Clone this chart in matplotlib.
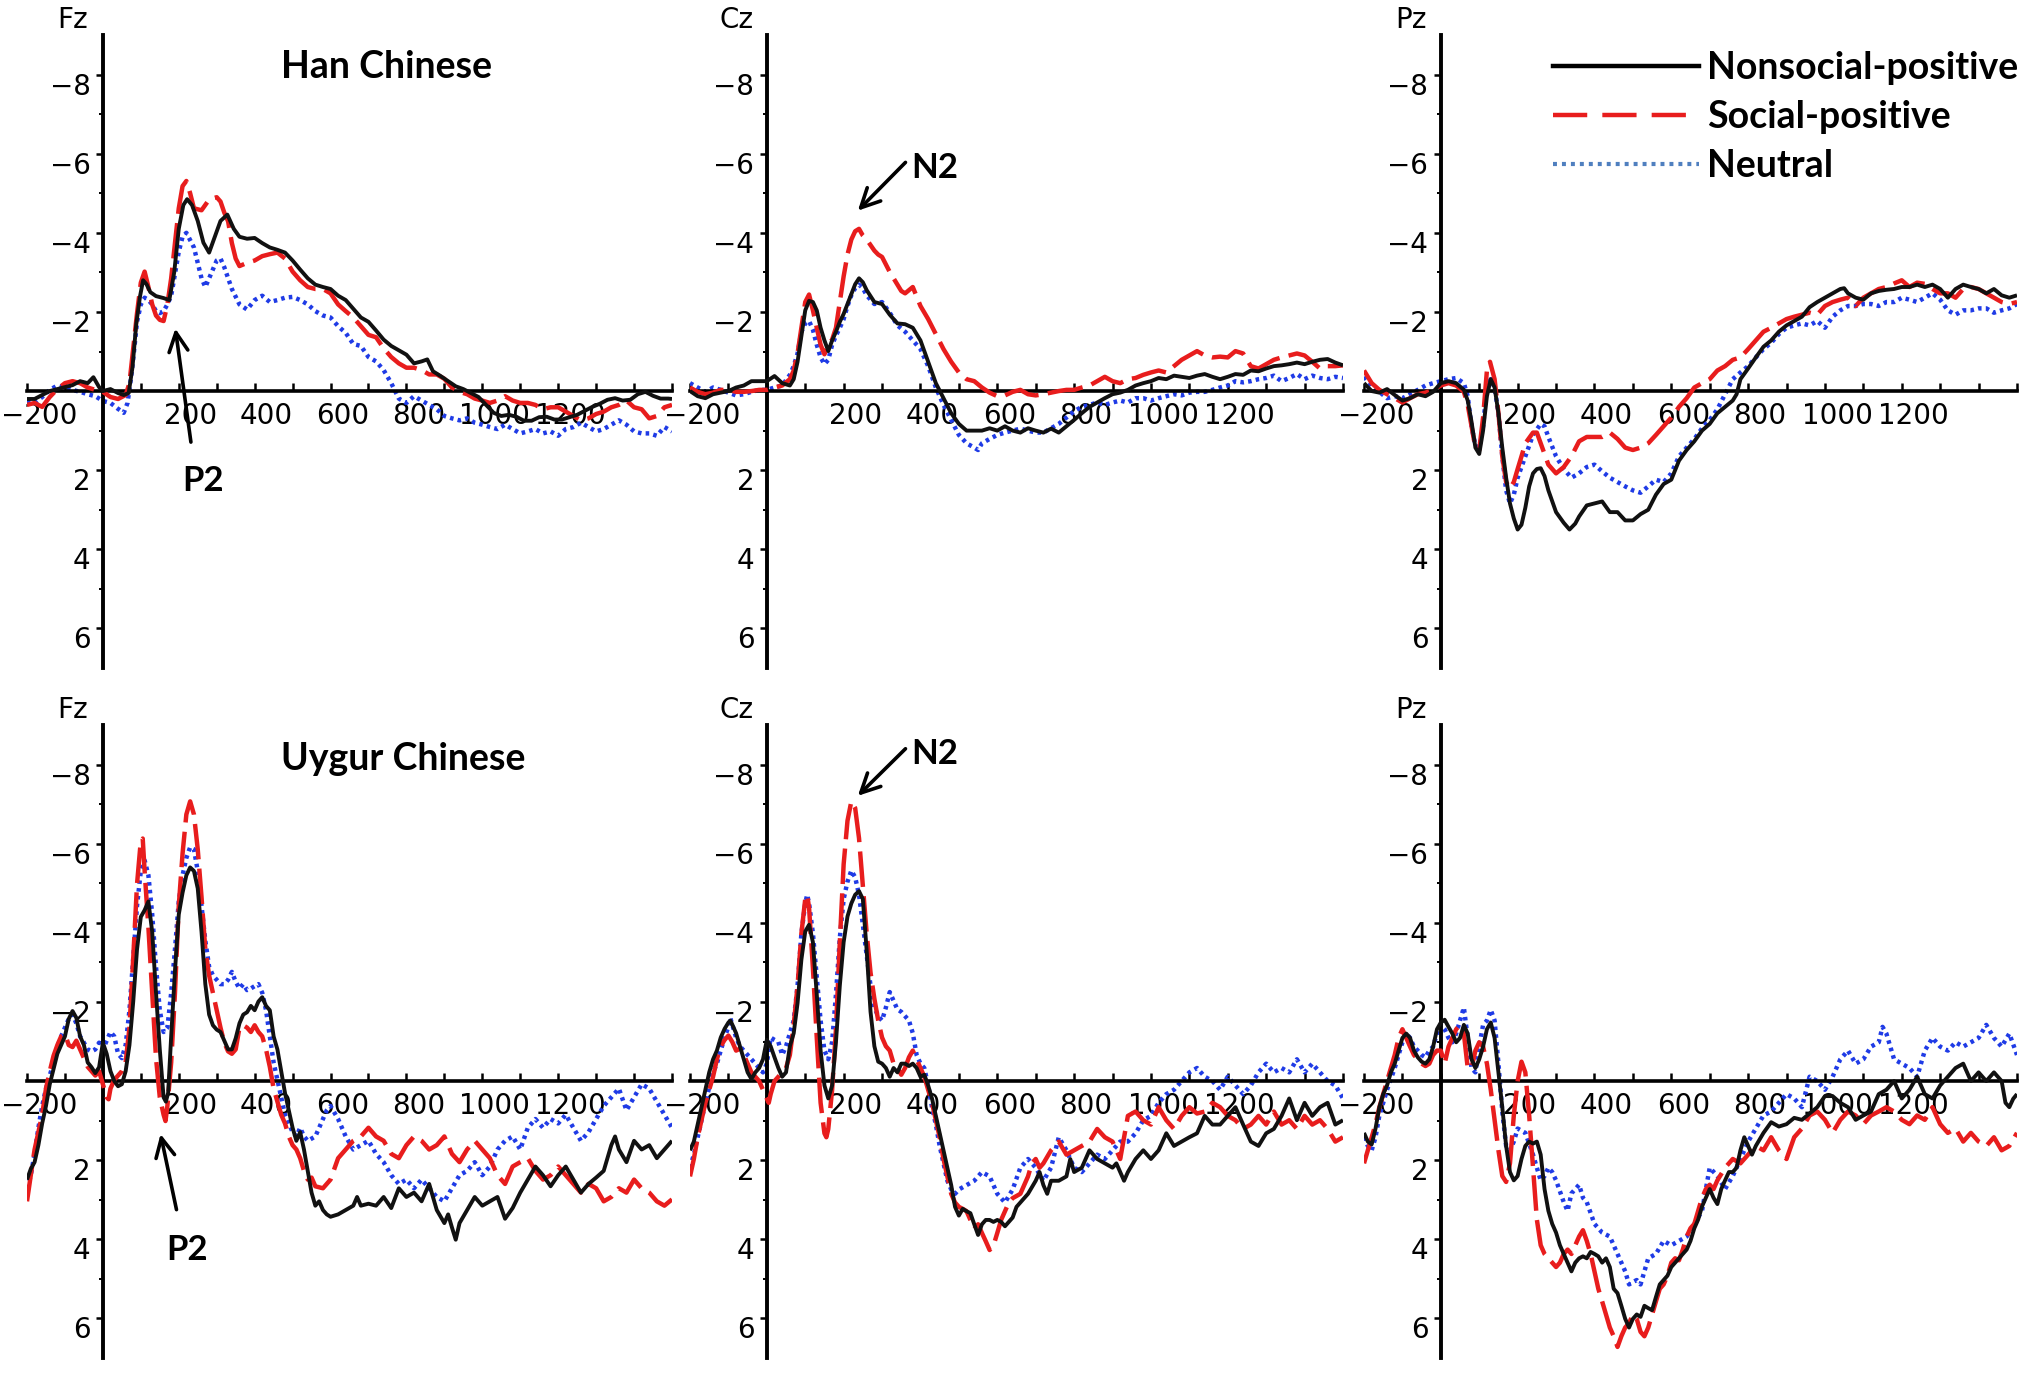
import numpy as np
import matplotlib
matplotlib.use('Agg')
import matplotlib.pyplot as plt
from matplotlib.lines import Line2D
from matplotlib.transforms import ScaledTranslation

# --- grand averages: (time in ms, amplitude in uV) ---
# Han Chinese, Fz
han_fz_nonsocial = [(-200, 0.2), (-180, 0.2), (-160, 0.1), (-140, 0.0), (-120, -0.05), (-100, -0.1), (-80, -0.15), (-60, -0.25),
    (-40, -0.2), (-25, -0.35), (-10, -0.1), (0, 0.0), (20, -0.05), (40, 0.05), (55, 0.1), (68, 0.05), (78, -0.6), (88, -1.7),
    (98, -2.4), (106, -2.8), (115, -2.7), (125, -2.5), (140, -2.4), (160, -2.35), (175, -2.3), (188, -3.0), (200, -4.1),
    (212, -4.7), (222, -4.85), (235, -4.7), (250, -4.3), (265, -3.75), (280, -3.5), (295, -3.9), (310, -4.3), (328, -4.46),
    (345, -4.1), (360, -3.9), (380, -3.85), (400, -3.87), (420, -3.74), (440, -3.63), (460, -3.57), (480, -3.5), (500, -3.3),
    (520, -3.07), (540, -2.85), (560, -2.69), (580, -2.63), (600, -2.58), (620, -2.41), (640, -2.3), (660, -2.08), (680, -1.86),
    (700, -1.75), (720, -1.53), (740, -1.3), (760, -1.14), (780, -1.03), (800, -0.92), (820, -0.7), (840, -0.75), (855, -0.8),
    (870, -0.5), (890, -0.38), (910, -0.25), (930, -0.12), (950, -0.05), (970, 0.05), (990, 0.15), (1010, 0.35), (1030, 0.55),
    (1050, 0.63), (1070, 0.6), (1090, 0.65), (1110, 0.75), (1130, 0.75), (1150, 0.66), (1170, 0.65), (1190, 0.72), (1210, 0.72),
    (1230, 0.66), (1250, 0.6), (1270, 0.5), (1290, 0.4), (1310, 0.32), (1330, 0.22), (1350, 0.18), (1370, 0.24), (1390, 0.22),
    (1410, 0.08), (1430, 0.02), (1450, 0.12), (1470, 0.19), (1490, 0.19), (1500, 0.2)]
han_fz_social = [(-200, 0.35), (-180, 0.3), (-160, 0.4), (-140, 0.15), (-120, -0.05), (-100, -0.2), (-80, -0.25), (-60, -0.2),
    (-40, -0.09), (-20, -0.03), (0, 0.02), (20, 0.15), (40, 0.2), (60, 0.1), (70, -0.2), (80, -1.08), (90, -1.97), (100, -2.74),
    (110, -3.02), (120, -2.63), (130, -2.19), (140, -1.91), (150, -1.8), (160, -1.77), (170, -2.19), (180, -2.85), (190, -3.74),
    (200, -4.62), (210, -5.18), (220, -5.31), (230, -5.0), (240, -4.62), (260, -4.57), (280, -4.84), (300, -4.9), (310, -4.79),
    (320, -4.51), (330, -4.29), (340, -3.74), (350, -3.35), (360, -3.16), (380, -3.24), (400, -3.3), (420, -3.41), (440, -3.46),
    (460, -3.5), (480, -3.35), (500, -3.02), (520, -2.8), (540, -2.63), (560, -2.58), (580, -2.58), (600, -2.47), (620, -2.19),
    (640, -2.02), (660, -1.86), (680, -1.64), (700, -1.42), (720, -1.36), (740, -1.08), (760, -0.86), (780, -0.7), (800, -0.59),
    (820, -0.59), (840, -0.53), (860, -0.42), (880, -0.42), (900, -0.31), (920, -0.09), (940, 0.02), (960, 0.08), (980, 0.19),
    (1000, 0.24), (1020, 0.3), (1040, 0.24), (1060, 0.13), (1080, 0.24), (1100, 0.3), (1120, 0.3), (1140, 0.35), (1160, 0.46),
    (1180, 0.41), (1200, 0.41), (1220, 0.52), (1240, 0.63), (1260, 0.74), (1280, 0.69), (1300, 0.58), (1320, 0.52), (1340, 0.41),
    (1360, 0.35), (1380, 0.24), (1400, 0.41), (1420, 0.46), (1440, 0.69), (1460, 0.63), (1480, 0.41), (1500, 0.35)]
han_fz_neutral = [(-200, 0.25), (-180, 0.3), (-160, 0.15), (-140, -0.03), (-120, -0.14), (-100, -0.09), (-80, -0.03), (-60, 0.02),
    (-40, 0.08), (-20, 0.13), (0, 0.25), (20, 0.3), (40, 0.45), (55, 0.55), (65, 0.3), (75, -0.4), (82, -1.0), (90, -1.75),
    (100, -2.19), (110, -2.36), (120, -2.3), (130, -2.19), (140, -2.02), (150, -1.97), (160, -2.02), (170, -2.19), (180, -2.41),
    (190, -2.96), (200, -3.52), (210, -3.9), (220, -4.0), (240, -3.63), (260, -2.85), (270, -2.63), (280, -2.85), (300, -3.3),
    (310, -3.35), (320, -3.13), (340, -2.58), (360, -2.19), (380, -2.06), (400, -2.3), (420, -2.41), (440, -2.25), (460, -2.3),
    (480, -2.36), (500, -2.38), (520, -2.3), (540, -2.19), (560, -2.02), (580, -1.91), (600, -1.86), (620, -1.64), (640, -1.47),
    (660, -1.19), (680, -1.14), (700, -0.86), (720, -0.75), (740, -0.53), (760, -0.2), (780, 0.19), (800, 0.3), (820, 0.13),
    (840, 0.24), (860, 0.35), (880, 0.46), (900, 0.63), (920, 0.69), (940, 0.74), (960, 0.69), (980, 0.8), (1000, 0.85),
    (1020, 0.91), (1040, 0.96), (1060, 0.85), (1080, 0.96), (1100, 1.07), (1120, 1.02), (1140, 0.96), (1160, 1.07), (1180, 1.02),
    (1200, 1.13), (1220, 0.96), (1240, 0.91), (1260, 0.8), (1280, 0.91), (1300, 1.02), (1320, 0.96), (1340, 0.85), (1360, 0.74),
    (1380, 0.85), (1400, 1.02), (1420, 1.07), (1440, 1.07), (1460, 1.13), (1480, 0.91), (1500, 1.02)]

# Han Chinese, Cz
han_cz_nonsocial = [(-200, 0.0), (-180, 0.13), (-160, 0.18), (-140, 0.08), (-120, 0.04), (-100, 0.0), (-80, -0.09), (-60, -0.14),
    (-40, -0.25), (-20, -0.25), (0, -0.25), (20, -0.38), (40, -0.2), (60, -0.14), (70, -0.3), (80, -0.74), (90, -1.39),
    (100, -2.04), (110, -2.28), (120, -2.25), (130, -2.04), (140, -1.6), (150, -1.28), (160, -1.01), (170, -1.28), (180, -1.5),
    (190, -1.75), (200, -1.95), (210, -2.2), (220, -2.45), (230, -2.7), (240, -2.85), (250, -2.75), (260, -2.55), (280, -2.25),
    (300, -2.2), (320, -1.93), (340, -1.71), (360, -1.69), (380, -1.6), (400, -1.28), (420, -0.74), (440, -0.2), (460, 0.18),
    (480, 0.56), (500, 0.83), (520, 1.0), (540, 1.0), (560, 1.0), (580, 0.94), (600, 1.0), (620, 0.89), (640, 1.0), (660, 1.05),
    (680, 0.94), (700, 1.0), (720, 1.05), (740, 0.95), (760, 1.05), (780, 0.89), (800, 0.73), (820, 0.56), (840, 0.4),
    (860, 0.29), (880, 0.18), (900, 0.08), (920, 0.04), (940, -0.03), (960, -0.14), (980, -0.2), (1000, -0.25), (1020, -0.33),
    (1040, -0.3), (1060, -0.39), (1080, -0.36), (1100, -0.33), (1120, -0.39), (1140, -0.43), (1160, -0.36), (1180, -0.3),
    (1200, -0.36), (1220, -0.43), (1240, -0.41), (1260, -0.52), (1280, -0.5), (1300, -0.57), (1320, -0.63), (1340, -0.65),
    (1360, -0.68), (1380, -0.72), (1400, -0.68), (1420, -0.74), (1440, -0.79), (1460, -0.81), (1480, -0.72), (1500, -0.65)]
han_cz_social = [(-200, -0.09), (-180, 0.02), (-160, 0.08), (-140, 0.04), (-120, -0.03), (-100, -0.03), (-80, 0.02), (-60, 0.02),
    (-40, 0.0), (-20, -0.03), (0, -0.03), (20, -0.09), (40, -0.14), (60, -0.3), (70, -0.52), (80, -0.95), (90, -1.6),
    (100, -2.25), (110, -2.44), (120, -2.04), (130, -1.6), (140, -1.17), (150, -0.93), (160, -1.17), (170, -1.3), (180, -1.6),
    (190, -2.25), (200, -2.9), (210, -3.45), (220, -3.83), (230, -4.04), (240, -4.1), (250, -3.93), (260, -3.83), (280, -3.55),
    (290, -3.45), (300, -3.39), (320, -3.01), (340, -2.69), (350, -2.53), (360, -2.47), (380, -2.63), (400, -2.15), (420, -1.82),
    (440, -1.44), (460, -1.06), (480, -0.74), (500, -0.47), (520, -0.3), (540, -0.25), (560, -0.09), (580, 0.04), (600, 0.13),
    (620, 0.11), (640, 0.02), (660, -0.03), (680, 0.08), (700, 0.11), (720, 0.08), (740, 0.04), (760, 0.0), (780, -0.03),
    (800, -0.03), (820, -0.09), (840, -0.14), (860, -0.25), (880, -0.36), (900, -0.25), (920, -0.2), (940, -0.3), (960, -0.33),
    (980, -0.41), (1000, -0.47), (1020, -0.52), (1040, -0.47), (1060, -0.63), (1080, -0.79), (1100, -0.9), (1120, -1.01),
    (1140, -0.9), (1160, -0.85), (1180, -0.87), (1200, -0.85), (1220, -1.01), (1240, -0.95), (1260, -0.63), (1280, -0.57),
    (1300, -0.68), (1320, -0.79), (1340, -0.85), (1360, -0.9), (1380, -0.95), (1400, -0.9), (1420, -0.74), (1440, -0.57),
    (1460, -0.63), (1480, -0.63), (1500, -0.65)]
han_cz_neutral = [(-200, -0.2), (-180, -0.09), (-160, 0.02), (-140, -0.09), (-120, -0.03), (-100, 0.04), (-80, 0.11), (-60, 0.08),
    (-40, 0.02), (-20, -0.03), (0, -0.03), (20, -0.09), (40, -0.14), (60, -0.41), (70, -0.63), (80, -0.95), (90, -1.5),
    (100, -1.71), (110, -1.77), (120, -1.55), (130, -1.17), (140, -0.85), (150, -0.68), (160, -0.79), (170, -1.17), (180, -1.4),
    (190, -1.6), (200, -1.82), (210, -2.15), (220, -2.42), (230, -2.6), (240, -2.69), (250, -2.6), (260, -2.42), (280, -2.2),
    (300, -2.25), (320, -1.98), (340, -1.66), (360, -1.5), (380, -1.28), (400, -1.06), (420, -0.63), (440, -0.09), (460, 0.35),
    (480, 0.73), (500, 1.11), (520, 1.32), (540, 1.43), (550, 1.49), (560, 1.32), (580, 1.21), (600, 1.11), (620, 1.05),
    (640, 1.0), (660, 0.95), (680, 1.0), (700, 1.05), (720, 1.05), (740, 0.94), (760, 0.83), (780, 0.67), (800, 0.51),
    (820, 0.4), (840, 0.35), (860, 0.29), (880, 0.35), (900, 0.29), (920, 0.24), (940, 0.29), (960, 0.18), (980, 0.18),
    (1000, 0.24), (1020, 0.18), (1040, 0.13), (1060, 0.08), (1080, 0.11), (1100, 0.04), (1120, 0.02), (1140, 0.02), (1160, -0.03),
    (1180, -0.09), (1200, -0.14), (1220, -0.25), (1240, -0.22), (1260, -0.25), (1280, -0.3), (1300, -0.33), (1320, -0.39),
    (1340, -0.25), (1360, -0.33), (1380, -0.43), (1400, -0.3), (1420, -0.39), (1440, -0.33), (1460, -0.3), (1480, -0.36),
    (1500, -0.33)]

# Han Chinese, Pz
han_pz_nonsocial = [(-200, -0.2), (-180, 0.0), (-160, 0.04), (-140, -0.05), (-120, 0.1), (-100, 0.24), (-80, 0.18), (-60, 0.08),
    (-40, 0.13), (-20, 0.02), (0, -0.2), (20, -0.25), (40, -0.2), (60, -0.03), (70, 0.24), (80, 0.78), (90, 1.43), (100, 1.59),
    (110, 1.0), (120, 0.13), (130, -0.3), (140, -0.09), (150, 0.56), (160, 1.43), (170, 2.19), (180, 2.84), (190, 3.22),
    (200, 3.5), (210, 3.38), (220, 2.95), (230, 2.41), (240, 2.08), (250, 1.97), (260, 1.95), (270, 2.15), (280, 2.51),
    (300, 3.06), (320, 3.33), (335, 3.5), (350, 3.35), (360, 3.17), (380, 2.89), (400, 2.84), (420, 2.79), (440, 3.06),
    (460, 3.06), (480, 3.27), (500, 3.27), (520, 3.11), (540, 3.0), (560, 2.62), (580, 2.35), (600, 2.24), (620, 1.76),
    (640, 1.49), (660, 1.27), (680, 1.0), (700, 0.83), (720, 0.56), (740, 0.4), (760, 0.24), (770, 0.08), (780, -0.3),
    (800, -0.57), (820, -0.85), (840, -1.12), (860, -1.28), (880, -1.5), (900, -1.66), (920, -1.77), (940, -1.88), (960, -2.12),
    (980, -2.25), (1000, -2.36), (1020, -2.47), (1040, -2.58), (1050, -2.6), (1060, -2.47), (1080, -2.36), (1100, -2.31),
    (1120, -2.47), (1140, -2.53), (1160, -2.56), (1180, -2.58), (1200, -2.63), (1220, -2.63), (1240, -2.69), (1260, -2.63),
    (1280, -2.69), (1300, -2.58), (1320, -2.36), (1340, -2.58), (1360, -2.69), (1380, -2.63), (1400, -2.58), (1420, -2.47),
    (1440, -2.58), (1460, -2.42), (1480, -2.36), (1500, -2.42)]
han_pz_social = [(-200, -0.52), (-180, -0.2), (-160, -0.03), (-140, 0.08), (-120, 0.18), (-100, 0.29), (-80, 0.18), (-60, 0.08),
    (-40, 0.04), (-20, -0.03), (0, -0.14), (20, -0.2), (40, -0.14), (60, 0.02), (70, 0.35), (80, 0.89), (90, 1.43), (100, 1.49),
    (110, 0.67), (120, -0.52), (128, -0.74), (140, -0.3), (150, 0.56), (160, 1.65), (170, 2.3), (180, 2.46), (190, 2.3),
    (200, 1.97), (210, 1.65), (220, 1.32), (240, 1.05), (250, 1.05), (260, 1.32), (280, 1.86), (300, 2.08), (320, 1.92),
    (340, 1.65), (360, 1.27), (380, 1.16), (400, 1.16), (420, 1.16), (440, 1.05), (460, 1.21), (480, 1.43), (500, 1.49),
    (520, 1.43), (540, 1.32), (560, 1.11), (580, 0.89), (600, 0.67), (620, 0.4), (640, 0.18), (660, -0.09), (680, -0.2),
    (700, -0.3), (720, -0.52), (740, -0.63), (760, -0.79), (780, -0.85), (800, -1.06), (820, -1.28), (840, -1.5), (860, -1.6),
    (880, -1.71), (900, -1.82), (920, -1.88), (940, -1.93), (960, -1.98), (980, -1.93), (1000, -2.15), (1020, -2.25),
    (1040, -2.31), (1060, -2.36), (1080, -2.15), (1100, -2.36), (1120, -2.47), (1140, -2.58), (1160, -2.63), (1180, -2.72),
    (1200, -2.8), (1220, -2.63), (1240, -2.74), (1260, -2.71), (1280, -2.58), (1300, -2.47), (1320, -2.47), (1340, -2.36),
    (1360, -2.58), (1380, -2.63), (1400, -2.58), (1420, -2.47), (1440, -2.36), (1460, -2.25), (1480, -2.2), (1500, -2.25)]
han_pz_neutral = [(-200, -0.36), (-180, -0.14), (-160, 0.02), (-140, 0.18), (-120, 0.13), (-100, 0.18), (-80, 0.08), (-60, -0.03),
    (-40, -0.14), (-20, -0.2), (0, -0.25), (20, -0.3), (40, -0.33), (60, -0.2), (70, 0.13), (80, 0.89), (90, 1.38), (100, 1.43),
    (110, 0.89), (120, -0.09), (130, -0.3), (140, -0.09), (150, 0.56), (160, 1.65), (170, 2.51), (180, 2.84), (190, 2.62),
    (200, 2.19), (220, 1.65), (240, 1.11), (260, 0.83), (270, 0.89), (280, 1.16), (300, 1.65), (320, 1.97), (340, 2.19),
    (360, 2.08), (380, 1.92), (400, 1.86), (420, 2.03), (440, 2.19), (460, 2.3), (480, 2.41), (500, 2.51), (520, 2.57),
    (540, 2.41), (560, 2.24), (580, 2.3), (600, 2.08), (620, 1.65), (640, 1.43), (660, 1.21), (680, 0.94), (700, 0.73),
    (720, 0.46), (740, 0.08), (760, -0.3), (780, -0.47), (800, -0.63), (820, -0.85), (840, -1.06), (860, -1.22), (880, -1.44),
    (900, -1.6), (920, -1.66), (940, -1.71), (960, -1.66), (980, -1.77), (1000, -1.6), (1020, -1.88), (1040, -2.04),
    (1060, -2.15), (1080, -2.15), (1100, -2.2), (1120, -2.2), (1140, -2.15), (1160, -2.25), (1180, -2.25), (1200, -2.36),
    (1220, -2.31), (1240, -2.25), (1260, -2.36), (1280, -2.47), (1300, -2.31), (1320, -2.04), (1340, -1.93), (1360, -2.04),
    (1380, -2.04), (1400, -2.09), (1420, -2.09), (1440, -1.98), (1460, -2.04), (1480, -2.09), (1500, -2.2)]

# Uygur Chinese, Fz
uyg_fz_nonsocial = [(-200, 2.49), (-190, 2.22), (-180, 2.05), (-170, 1.62), (-160, 1.07), (-150, 0.63), (-140, 0.08), (-120, -0.69),
    (-100, -1.13), (-90, -1.57), (-80, -1.77), (-70, -1.6), (-60, -1.13), (-50, -0.91), (-40, -0.47), (-30, -0.35), (-20, -0.2),
    (-10, -0.35), (0, -0.97), (10, -0.69), (20, -0.25), (30, 0.0), (40, 0.13), (50, 0.08), (60, -0.25), (70, -0.91), (80, -2.01),
    (90, -3.33), (100, -4.15), (110, -4.32), (120, -4.54), (130, -3.77), (140, -2.23), (150, -0.8), (160, 0.41), (166, 0.52),
    (172, 0.3), (180, -1.13), (190, -2.78), (200, -4.21), (210, -4.76), (220, -5.2), (230, -5.4), (240, -5.31), (250, -4.87),
    (260, -3.77), (270, -2.45), (280, -1.68), (290, -1.41), (300, -1.3), (310, -1.24), (320, -1.02), (330, -0.8), (340, -0.8),
    (350, -1.08), (360, -1.46), (370, -1.68), (380, -1.74), (390, -1.9), (400, -1.79), (410, -2.01), (420, -2.12), (430, -1.9),
    (440, -1.79), (450, -1.13), (460, -0.8), (470, -0.25), (480, 0.3), (490, 0.74), (500, 1.18), (510, 1.51), (520, 1.29),
    (530, 1.73), (540, 2.27), (550, 2.82), (560, 3.15), (570, 3.04), (580, 3.26), (590, 3.37), (600, 3.43), (620, 3.37),
    (640, 3.26), (660, 3.15), (670, 2.93), (680, 3.15), (700, 3.1), (720, 3.15), (740, 2.93), (760, 3.21), (780, 2.71),
    (800, 2.93), (820, 2.82), (840, 3.04), (860, 2.6), (880, 3.26), (900, 3.59), (910, 3.37), (920, 3.7), (930, 4.01),
    (940, 3.59), (960, 3.26), (980, 2.93), (1000, 3.15), (1020, 3.04), (1040, 2.93), (1060, 3.48), (1080, 3.21), (1100, 2.82),
    (1120, 2.49), (1140, 2.16), (1160, 2.38), (1180, 2.66), (1200, 2.38), (1220, 2.16), (1240, 2.49), (1260, 2.82), (1280, 2.6),
    (1300, 2.44), (1320, 2.27), (1340, 1.62), (1350, 1.4), (1360, 1.73), (1380, 2.05), (1400, 1.51), (1420, 1.73), (1440, 1.62),
    (1460, 1.95), (1480, 1.73), (1500, 1.51)]
uyg_fz_social = [(-200, 3.04), (-190, 2.38), (-180, 1.73), (-170, 1.29), (-160, 0.85), (-150, 0.19), (-140, -0.25), (-130, -0.64),
    (-120, -0.91), (-110, -1.13), (-100, -1.19), (-90, -0.91), (-80, -0.86), (-70, -1.02), (-60, -0.8), (-50, -0.58),
    (-40, -0.36), (-30, -0.25), (-20, -0.14), (-10, -0.25), (0, 0.08), (10, 0.41), (15, 0.46), (20, 0.19), (30, -0.03),
    (40, -0.14), (50, -0.25), (60, -0.47), (70, -1.35), (80, -3.11), (90, -4.98), (100, -6.08), (105, -6.13), (110, -5.31),
    (120, -3.88), (130, -2.23), (140, -0.58), (150, 0.41), (160, 0.85), (165, 1.01), (170, 0.63), (180, -0.47), (190, -2.23),
    (200, -4.43), (210, -5.75), (220, -6.74), (230, -7.07), (240, -6.74), (250, -5.86), (260, -4.65), (270, -3.33), (280, -2.67),
    (290, -2.23), (300, -1.79), (310, -1.35), (320, -0.97), (330, -0.75), (340, -0.69), (350, -0.8), (360, -1.35), (370, -1.41),
    (380, -1.35), (390, -1.24), (400, -1.41), (410, -1.24), (420, -1.13), (430, -0.8), (440, -0.36), (450, 0.19), (460, 0.52),
    (470, 0.85), (480, 1.07), (490, 1.4), (500, 1.62), (510, 1.73), (520, 1.95), (530, 2.27), (540, 2.49), (550, 2.44),
    (560, 2.66), (580, 2.71), (600, 2.49), (620, 1.95), (640, 1.73), (660, 1.51), (680, 1.4), (700, 1.18), (720, 1.4),
    (740, 1.51), (760, 1.84), (780, 1.95), (800, 1.62), (820, 1.4), (840, 1.51), (860, 1.73), (880, 1.62), (900, 1.4),
    (920, 1.84), (940, 2.05), (960, 1.73), (980, 1.51), (1000, 1.73), (1020, 1.95), (1040, 2.38), (1060, 2.6), (1080, 2.16),
    (1100, 2.05), (1120, 1.95), (1140, 2.27), (1160, 2.49), (1180, 2.38), (1200, 2.16), (1220, 2.38), (1240, 2.6), (1260, 2.82),
    (1280, 2.6), (1300, 2.71), (1320, 3.04), (1340, 2.93), (1360, 2.71), (1380, 2.82), (1400, 2.49), (1420, 2.71), (1440, 2.82),
    (1460, 3.04), (1480, 3.15), (1500, 2.99)]
uyg_fz_neutral = [(-200, 2.71), (-190, 2.38), (-180, 1.84), (-170, 1.18), (-160, 0.63), (-150, 0.19), (-140, -0.14), (-130, -0.47),
    (-120, -0.86), (-110, -1.13), (-100, -1.35), (-90, -1.57), (-80, -1.68), (-70, -1.46), (-60, -1.13), (-50, -0.97),
    (-40, -0.8), (-30, -0.75), (-20, -0.8), (-10, -0.97), (0, -0.8), (10, -1.02), (20, -1.24), (30, -1.13), (40, -0.69),
    (50, -0.58), (60, -0.91), (70, -1.79), (80, -3.11), (90, -4.43), (100, -5.31), (110, -5.58), (120, -5.2), (130, -4.21),
    (140, -2.89), (150, -1.79), (160, -1.24), (170, -1.35), (180, -2.23), (190, -3.33), (200, -4.54), (210, -5.2), (220, -5.64),
    (230, -5.91), (240, -5.86), (250, -5.31), (260, -4.43), (270, -3.55), (280, -2.89), (290, -2.67), (300, -2.56), (310, -2.45),
    (320, -2.45), (330, -2.56), (340, -2.76), (350, -2.51), (360, -2.34), (370, -2.45), (380, -2.3), (390, -2.34), (400, -2.4),
    (410, -2.45), (420, -2.23), (430, -1.79), (440, -1.13), (450, -0.47), (460, -0.03), (470, 0.41), (480, 0.85), (490, 1.07),
    (500, 1.29), (510, 1.4), (520, 1.18), (530, 1.4), (540, 1.51), (560, 1.4), (570, 1.18), (580, 0.96), (590, 0.74),
    (600, 0.63), (620, 0.96), (640, 1.4), (660, 1.73), (680, 1.62), (700, 1.51), (720, 1.84), (740, 2.05), (760, 2.38),
    (780, 2.6), (800, 2.49), (820, 2.71), (840, 2.49), (860, 2.71), (880, 2.93), (900, 3.04), (920, 2.71), (940, 2.38),
    (960, 2.27), (980, 2.05), (1000, 2.38), (1020, 2.16), (1040, 1.73), (1060, 1.51), (1080, 1.4), (1100, 1.73), (1120, 1.18),
    (1140, 0.96), (1160, 1.18), (1180, 0.96), (1200, 1.07), (1220, 0.85), (1240, 1.18), (1260, 1.51), (1280, 1.29), (1300, 0.96),
    (1320, 0.63), (1340, 0.41), (1360, 0.19), (1380, 0.74), (1400, 0.41), (1420, 0.08), (1440, 0.19), (1460, 0.52),
    (1480, 0.85), (1500, 1.18)]

# Uygur Chinese, Cz
uyg_cz_nonsocial = [(-200, 1.75), (-190, 1.53), (-180, 1.1), (-170, 0.66), (-160, 0.22), (-150, -0.22), (-140, -0.55), (-130, -0.77),
    (-120, -1.1), (-110, -1.32), (-100, -1.48), (-95, -1.53), (-90, -1.43), (-80, -1.21), (-70, -0.88), (-60, -0.55),
    (-50, -0.22), (-40, -0.05), (-30, -0.22), (-20, -0.33), (-10, -0.55), (0, -1.04), (10, -0.88), (20, -0.6), (30, -0.33),
    (40, -0.11), (50, -0.22), (60, -0.88), (70, -1.21), (80, -1.97), (90, -3.07), (100, -3.78), (110, -3.95), (120, -3.51),
    (130, -2.19), (140, -0.77), (150, 0.11), (160, 0.44), (170, 0.11), (180, -0.99), (190, -2.41), (200, -3.51), (210, -4.16),
    (220, -4.49), (230, -4.71), (240, -4.8), (250, -4.6), (260, -3.29), (270, -1.75), (280, -0.88), (290, -0.49), (300, -0.44),
    (310, -0.33), (320, -0.11), (330, -0.33), (340, -0.22), (350, -0.44), (360, -0.44), (370, -0.38), (380, -0.44), (390, -0.33),
    (400, -0.11), (410, -0.16), (420, 0.11), (430, 0.44), (440, 0.88), (450, 1.32), (460, 1.75), (470, 2.19), (480, 2.63),
    (490, 3.18), (500, 3.4), (510, 3.23), (520, 3.29), (530, 3.34), (540, 3.62), (550, 3.89), (560, 3.62), (570, 3.51),
    (580, 3.51), (590, 3.56), (600, 3.51), (610, 3.56), (620, 3.67), (630, 3.56), (640, 3.45), (650, 3.18), (660, 3.07),
    (680, 2.85), (700, 2.52), (710, 2.3), (720, 2.63), (730, 2.85), (740, 2.52), (760, 2.52), (780, 2.41), (790, 1.97),
    (800, 2.3), (820, 2.19), (840, 1.75), (860, 1.97), (880, 2.08), (900, 2.19), (910, 2.08), (920, 2.3), (930, 2.52),
    (940, 2.3), (960, 1.97), (980, 1.75), (1000, 1.97), (1020, 1.75), (1040, 1.32), (1060, 1.64), (1080, 1.53), (1100, 1.42),
    (1120, 1.32), (1140, 0.88), (1160, 1.1), (1180, 1.1), (1200, 0.88), (1220, 0.66), (1240, 1.1), (1260, 1.53), (1280, 1.64),
    (1300, 1.32), (1320, 1.21), (1340, 0.88), (1360, 0.44), (1380, 0.99), (1400, 0.55), (1420, 0.88), (1440, 0.66),
    (1460, 0.55), (1480, 1.1), (1500, 0.99)]
uyg_cz_social = [(-200, 2.41), (-190, 1.97), (-180, 1.42), (-170, 0.99), (-160, 0.55), (-150, 0.22), (-140, -0.11), (-130, -0.55),
    (-120, -0.88), (-110, -1.04), (-100, -1.15), (-90, -0.99), (-80, -0.77), (-70, -0.82), (-60, -0.66), (-50, -0.44),
    (-40, -0.22), (-30, -0.11), (-20, 0.0), (-10, 0.22), (0, 0.44), (5, 0.55), (10, 0.33), (20, 0.0), (30, -0.11), (40, -0.22),
    (50, -0.33), (60, -0.66), (70, -1.42), (80, -2.41), (90, -3.73), (100, -4.6), (105, -4.71), (110, -4.38), (120, -2.85),
    (130, -1.1), (140, 0.55), (150, 1.32), (155, 1.42), (160, 1.21), (170, 0.22), (180, -1.32), (190, -3.51), (200, -5.48),
    (210, -6.58), (220, -7.07), (230, -6.9), (240, -6.14), (250, -4.93), (260, -3.73), (270, -2.74), (280, -2.08), (290, -1.53),
    (300, -1.1), (310, -0.88), (320, -0.77), (330, -0.44), (340, -0.33), (350, -0.16), (360, -0.33), (370, -0.6), (380, -0.77),
    (390, -0.55), (400, -0.33), (410, -0.11), (420, 0.22), (430, 0.55), (440, 0.99), (450, 1.42), (460, 1.97), (470, 2.41),
    (480, 2.85), (490, 3.07), (500, 3.18), (510, 3.23), (520, 3.29), (530, 3.51), (540, 3.73), (550, 3.62), (560, 3.84),
    (570, 4.05), (580, 4.27), (590, 4.16), (600, 3.84), (610, 3.51), (620, 3.29), (630, 3.07), (640, 2.96), (660, 2.85),
    (680, 2.41), (690, 2.08), (700, 1.97), (710, 2.19), (720, 2.08), (740, 1.75), (760, 1.53), (780, 1.86), (800, 1.75),
    (820, 1.64), (840, 1.53), (860, 1.21), (880, 1.42), (900, 1.53), (910, 1.75), (920, 1.97), (940, 0.88), (960, 0.77),
    (980, 0.99), (1000, 1.1), (1020, 0.66), (1040, 0.99), (1060, 1.21), (1080, 0.88), (1100, 0.66), (1120, 0.82), (1140, 0.77),
    (1160, 0.55), (1180, 0.66), (1200, 0.88), (1220, 0.99), (1240, 1.21), (1260, 1.1), (1280, 0.88), (1300, 1.1), (1320, 0.77),
    (1340, 1.1), (1360, 0.99), (1380, 1.21), (1400, 0.88), (1420, 1.1), (1440, 0.99), (1460, 1.21), (1480, 1.53), (1500, 1.42)]
uyg_cz_neutral = [(-200, 2.19), (-190, 1.86), (-180, 1.42), (-170, 0.99), (-160, 0.55), (-150, 0.16), (-140, -0.22), (-130, -0.44),
    (-120, -0.77), (-110, -1.1), (-100, -1.37), (-95, -1.59), (-90, -1.43), (-80, -1.1), (-70, -0.88), (-60, -0.77),
    (-50, -0.66), (-40, -0.55), (-30, -0.44), (-20, -0.33), (-10, -0.22), (0, -0.44), (10, -1.1), (20, -1.04), (30, -0.99),
    (40, -0.66), (50, -0.88), (60, -1.21), (70, -1.53), (80, -2.41), (90, -3.73), (100, -4.49), (105, -4.71), (110, -4.49),
    (120, -3.73), (130, -2.63), (140, -1.53), (150, -0.77), (160, -0.55), (170, -0.99), (180, -2.19), (190, -3.62), (200, -4.6),
    (210, -5.04), (220, -5.32), (230, -5.15), (240, -4.71), (250, -3.95), (260, -3.18), (270, -2.41), (280, -1.86), (290, -1.64),
    (300, -1.53), (310, -1.86), (320, -2.25), (330, -2.03), (340, -1.81), (350, -1.75), (360, -1.64), (370, -1.53), (380, -1.21),
    (390, -0.66), (400, -0.44), (410, -0.33), (420, 0.11), (430, 0.66), (440, 1.1), (450, 1.64), (460, 2.08), (470, 2.52),
    (480, 2.74), (490, 2.85), (500, 2.74), (520, 2.63), (540, 2.52), (560, 2.3), (580, 2.41), (600, 2.85), (620, 3.07),
    (640, 2.74), (660, 2.19), (680, 1.97), (700, 2.19), (720, 2.52), (740, 2.19), (760, 1.42), (780, 1.75), (800, 2.19),
    (820, 2.3), (840, 2.08), (860, 1.86), (880, 1.97), (900, 1.75), (920, 1.53), (940, 1.53), (960, 1.32), (980, 0.99),
    (1000, 0.88), (1020, 0.55), (1040, 0.33), (1060, 0.22), (1080, 0.0), (1100, -0.22), (1120, -0.33), (1140, -0.11),
    (1160, 0.0), (1180, 0.22), (1200, -0.11), (1220, 0.11), (1240, 0.33), (1260, 0.11), (1280, -0.22), (1300, -0.44),
    (1320, -0.22), (1340, -0.33), (1360, -0.22), (1380, -0.55), (1400, -0.22), (1420, -0.44), (1440, -0.22), (1460, 0.0),
    (1480, 0.11), (1500, 0.44)]

# Uygur Chinese, Pz
uyg_pz_nonsocial = [(-200, 1.31), (-190, 1.53), (-180, 1.6), (-170, 1.2), (-160, 0.66), (-150, 0.33), (-140, 0.11), (-130, -0.22),
    (-120, -0.44), (-110, -0.77), (-100, -1.09), (-90, -1.2), (-80, -1.09), (-70, -0.77), (-60, -0.6), (-50, -0.49),
    (-40, -0.44), (-30, -0.55), (-20, -0.87), (-10, -1.31), (0, -1.48), (10, -1.55), (20, -1.37), (30, -1.2), (40, -0.98),
    (50, -1.09), (60, -1.42), (70, -1.2), (80, -0.55), (90, -0.33), (100, -0.55), (110, -0.87), (120, -1.31), (130, -1.48),
    (140, -1.09), (150, -0.22), (160, 0.66), (170, 1.64), (180, 2.3), (190, 2.51), (200, 2.4), (210, 1.97), (220, 1.64),
    (230, 1.53), (240, 1.58), (250, 1.53), (260, 1.86), (270, 2.73), (280, 3.28), (290, 3.61), (300, 3.83), (310, 4.15),
    (320, 4.37), (330, 4.59), (340, 4.81), (350, 4.59), (360, 4.48), (370, 4.43), (380, 4.48), (390, 4.32), (400, 4.37),
    (410, 4.43), (420, 4.59), (430, 4.48), (440, 4.7), (450, 5.25), (460, 5.36), (470, 5.68), (480, 6.01), (490, 6.23),
    (500, 6.01), (510, 5.9), (520, 5.96), (530, 5.68), (540, 5.74), (550, 5.79), (560, 5.46), (570, 5.14), (580, 5.03),
    (590, 4.92), (600, 4.7), (610, 4.59), (620, 4.48), (630, 4.37), (640, 4.26), (650, 4.04), (660, 3.72), (670, 3.5),
    (680, 3.17), (690, 2.95), (700, 2.73), (710, 2.95), (720, 3.11), (730, 2.73), (740, 2.51), (750, 2.3), (760, 2.3),
    (770, 2.19), (780, 1.75), (790, 1.42), (800, 1.64), (810, 1.86), (820, 1.64), (840, 1.31), (860, 1.04), (880, 1.15),
    (900, 1.09), (920, 0.93), (940, 0.98), (960, 0.82), (980, 0.66), (1000, 0.38), (1020, 0.38), (1040, 0.55), (1060, 0.66),
    (1080, 0.98), (1100, 0.87), (1120, 0.77), (1140, 0.33), (1160, 0.22), (1180, 0.0), (1200, 0.44), (1220, 0.22),
    (1240, -0.11), (1260, 0.33), (1280, 0.44), (1300, 0.11), (1320, -0.11), (1340, -0.33), (1360, -0.44), (1380, 0.0),
    (1400, -0.22), (1420, 0.0), (1440, -0.22), (1460, 0.0), (1470, 0.55), (1480, 0.66), (1490, 0.45), (1500, 0.33)]
uyg_pz_social = [(-200, 2.08), (-190, 1.75), (-180, 1.42), (-170, 1.09), (-160, 0.66), (-150, 0.33), (-140, 0.0), (-130, -0.33),
    (-120, -0.66), (-110, -1.09), (-100, -1.31), (-90, -1.09), (-80, -0.87), (-70, -0.66), (-60, -0.55), (-50, -0.44),
    (-40, -0.38), (-30, -0.44), (-20, -0.66), (-10, -0.77), (0, -0.77), (10, -0.44), (20, -0.87), (30, -1.09), (40, -1.31),
    (50, -1.42), (60, -1.2), (70, -0.33), (80, -0.33), (90, -0.77), (100, -0.98), (110, -0.87), (120, -0.44), (130, 0.22),
    (140, 0.98), (150, 1.75), (160, 2.4), (170, 2.55), (180, 2.08), (190, 0.87), (200, 0.0), (210, -0.49), (220, -0.22),
    (230, 0.87), (240, 2.19), (250, 3.5), (260, 4.15), (270, 4.37), (280, 4.48), (290, 4.59), (300, 4.7), (310, 4.59),
    (320, 4.37), (330, 4.26), (340, 4.37), (350, 4.15), (360, 3.93), (370, 3.77), (380, 4.04), (390, 4.37), (400, 4.81),
    (410, 5.25), (420, 5.57), (430, 5.9), (440, 6.23), (450, 6.45), (460, 6.72), (470, 6.45), (480, 6.23), (490, 6.12),
    (500, 5.9), (510, 6.01), (520, 6.34), (530, 6.45), (540, 6.23), (550, 5.9), (560, 5.57), (570, 5.25), (580, 5.14),
    (590, 4.92), (600, 4.59), (610, 4.48), (620, 4.53), (630, 4.26), (640, 3.93), (650, 3.72), (660, 3.61), (670, 3.28),
    (680, 2.95), (690, 2.73), (700, 2.62), (710, 2.73), (720, 2.51), (740, 2.19), (760, 1.97), (780, 2.08), (800, 1.86),
    (820, 1.64), (840, 1.75), (860, 1.42), (880, 1.75), (900, 1.97), (920, 1.42), (940, 1.2), (960, 0.87), (980, 0.77),
    (1000, 0.98), (1020, 1.31), (1040, 0.98), (1060, 0.77), (1080, 0.87), (1100, 1.09), (1120, 0.87), (1140, 0.77),
    (1160, 0.66), (1180, 0.77), (1200, 0.98), (1220, 1.09), (1240, 0.87), (1260, 0.98), (1280, 0.66), (1300, 1.09),
    (1320, 1.31), (1340, 1.2), (1360, 1.53), (1380, 1.31), (1400, 1.53), (1420, 1.64), (1440, 1.42), (1460, 1.75),
    (1480, 1.64), (1500, 1.31)]
uyg_pz_neutral = [(-200, 1.42), (-190, 1.64), (-180, 1.75), (-170, 1.42), (-160, 0.87), (-150, 0.55), (-140, 0.22), (-130, -0.05),
    (-120, -0.33), (-110, -0.66), (-100, -0.98), (-90, -1.2), (-80, -1.09), (-70, -0.87), (-60, -0.77), (-50, -0.66),
    (-40, -0.6), (-30, -0.77), (-20, -0.87), (-10, -1.2), (0, -1.42), (10, -1.31), (20, -1.09), (30, -0.98), (40, -1.2),
    (50, -1.53), (60, -1.86), (70, -1.09), (80, -0.33), (90, -0.22), (100, -0.87), (110, -1.42), (120, -1.53), (130, -1.8),
    (140, -1.53), (150, -0.44), (160, 0.77), (170, 1.64), (180, 1.75), (190, 1.53), (200, 1.2), (220, 1.31), (240, 1.86),
    (250, 2.19), (260, 2.51), (270, 2.4), (280, 2.19), (290, 2.3), (300, 2.51), (320, 3.06), (330, 3.28), (340, 2.84),
    (360, 2.62), (370, 2.95), (380, 3.06), (400, 3.61), (420, 3.83), (440, 3.93), (460, 4.37), (480, 4.81), (490, 5.14),
    (500, 5.08), (510, 5.03), (520, 5.14), (530, 4.81), (540, 4.48), (560, 4.37), (580, 4.04), (600, 4.15), (620, 4.04),
    (640, 3.93), (660, 3.61), (680, 3.28), (690, 2.73), (700, 2.19), (720, 2.4), (740, 2.73), (760, 2.4), (780, 1.97),
    (800, 1.53), (820, 1.2), (840, 0.87), (860, 0.77), (880, 0.55), (900, 0.33), (920, 0.44), (940, 0.66), (960, -0.11),
    (980, 0.0), (1000, 0.22), (1020, -0.11), (1040, -0.55), (1060, -0.77), (1080, -0.44), (1100, -0.55), (1120, -0.87),
    (1140, -0.98), (1150, -1.37), (1160, -1.2), (1180, -0.55), (1200, -0.44), (1220, -0.33), (1240, -0.11), (1260, -0.77),
    (1280, -1.09), (1300, -0.87), (1320, -0.77), (1340, -0.98), (1360, -0.87), (1380, -0.98), (1400, -1.09), (1420, -1.42),
    (1440, -1.09), (1460, -0.87), (1480, -1.2), (1500, -0.66)]

channels = ['Fz', 'Cz', 'Pz']
conditions = ['Nonsocial-positive', 'Social-positive', 'Neutral']
x_ticks = [-200, 200, 400, 600, 800, 1000, 1200]
x_labels = ['\u2212200', '200', '400', '600', '800', '1000', '1200']
y_ticks = [-8, -6, -4, -2, 2, 4, 6]
y_labels = ['\u22128', '\u22126', '\u22124', '\u22122', '2', '4', '6']

grid = [
    [han_fz_nonsocial, han_fz_social, han_fz_neutral],
    [han_cz_nonsocial, han_cz_social, han_cz_neutral],
    [han_pz_nonsocial, han_pz_social, han_pz_neutral],
    [uyg_fz_nonsocial, uyg_fz_social, uyg_fz_neutral],
    [uyg_cz_nonsocial, uyg_cz_social, uyg_cz_neutral],
    [uyg_pz_nonsocial, uyg_pz_social, uyg_pz_neutral],
]

RED = '#e81d1d'
BLUE = '#1f3be6'
styles = [
    dict(color='#111111', lw=2.8, zorder=4),
    dict(color=RED, lw=3.2, dashes=(8.0, 2.1), zorder=3),
    dict(color=BLUE, lw=3.2, dashes=(0.8, 0.95), zorder=2),
]

W, H = 2033, 1388
fig = plt.figure(figsize=(W / 100, H / 100), dpi=100)

# panel boxes in pixels
col_left = [27, 690, 1364]
col_width = [645, 653, 653]
row_top = [35, 725]
row_h = 633

bold = dict(family='Lato', weight='bold')
dx = ScaledTranslation(12 / 100, 0, fig.dpi_scale_trans)
dy = ScaledTranslation(0, -9 / 100, fig.dpi_scale_trans)

axes = []
for i, series in enumerate(grid):
    r, c = divmod(i, 3)
    ax = fig.add_axes([col_left[c] / W, 1 - (row_top[r] + row_h) / H, col_width[c] / W, row_h / H])
    axes.append(ax)
    ax.set_xlim(-200, 1500)
    ax.set_ylim(7, -9)
    # draw neutral first, black on top
    for data, st in reversed(list(zip(series, styles))):
        t, v = np.array(data).T
        ax.plot(t, v, solid_capstyle='butt', **st)

    ax.spines['left'].set_position(('data', 0))
    ax.spines['bottom'].set_position(('data', 0))
    ax.spines['top'].set_visible(False)
    ax.spines['right'].set_visible(False)
    ax.spines['left'].set_linewidth(2.8)
    ax.spines['bottom'].set_linewidth(2.6)
    ax.set_axisbelow(True)

    ax.set_xticks(x_ticks)
    ax.set_xticklabels(x_labels)
    ax.set_xticks(np.arange(-100, 1501, 100), minor=True)
    ax.tick_params(axis='x', which='both', direction='in', length=6, width=1.8, labelsize=20, pad=8)
    ax.set_yticks(y_ticks)
    ax.set_yticklabels(y_labels)
    ax.set_yticks([-7, -5, -3, -1, 1, 3, 5], minor=True)
    ax.tick_params(axis='y', which='major', direction='out', length=5, width=1.8, labelsize=20, pad=4)
    ax.tick_params(axis='y', which='minor', direction='out', length=3, width=1.4)
    for lab in ax.get_xticklabels():
        lab.set_transform(lab.get_transform() + dx)
    for lab in ax.get_yticklabels():
        lab.set_transform(lab.get_transform() + dy)

    ax.annotate(channels[c], xy=(0, -9), xytext=(-30, 15), textcoords='offset pixels',
                ha='center', va='center', fontsize=20)

# group titles
axes[0].text(470, -8.2, 'Han Chinese', ha='left', va='center', fontsize=27, **bold)
axes[3].text(470, -8.15, 'Uygur Chinese', ha='left', va='center', fontsize=27, **bold)

# component markers
arrow = dict(arrowstyle='->', lw=2.6, color='black', mutation_scale=34, shrinkA=0, shrinkB=0)
axes[0].annotate('', xy=(191, -1.58), xytext=(232, 1.29), arrowprops=arrow)
axes[0].text(263, 2.28, 'P2', ha='center', va='center', fontsize=25, **bold)
axes[3].annotate('', xy=(152, 1.34), xytext=(194, 3.25), arrowprops=arrow)
axes[3].text(223, 4.28, 'P2', ha='center', va='center', fontsize=25, **bold)
axes[1].annotate('', xy=(237, -4.56), xytext=(361, -5.78), arrowprops=arrow)
axes[1].text(438, -5.64, 'N2', ha='center', va='center', fontsize=25, **bold)
axes[4].annotate('', xy=(237, -7.21), xytext=(361, -8.4), arrowprops=arrow)
axes[4].text(438, -8.27, 'N2', ha='center', va='center', fontsize=25, **bold)

# legend in the top Pz panel
handles = [
    Line2D([], [], color='black', lw=3.2),
    Line2D([], [], color=RED, lw=3.2, dashes=(7.7, 3.4)),
    Line2D([], [], color='#4f7fbf', lw=3.0, dashes=(0.95, 1.2)),
]
axes[2].legend(handles, conditions, loc='upper left', bbox_to_anchor=(1553 / W, 1 - 51 / H),
               bbox_transform=fig.transFigure, frameon=False, prop=dict(size=27, **bold),
               handlelength=3.9, handletextpad=0.2, labelspacing=0.40, borderpad=0, borderaxespad=0)

fig.savefig('out.png', dpi=100)
